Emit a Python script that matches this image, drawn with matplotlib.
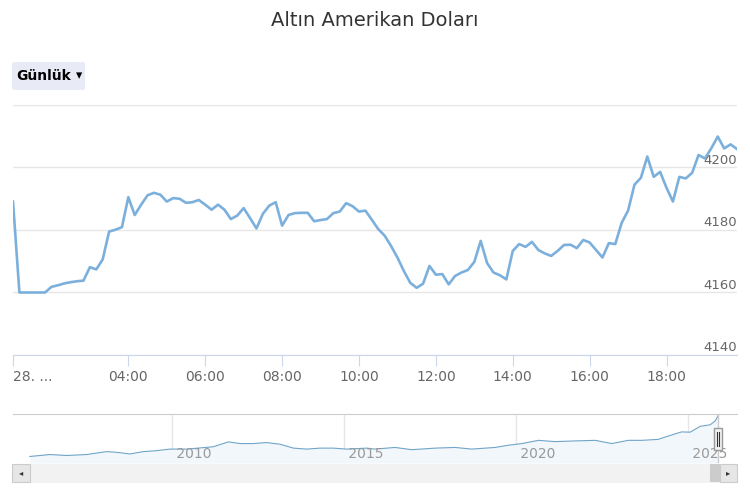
import pandas as pd
import matplotlib
matplotlib.use('Agg')
import matplotlib.pyplot as plt
from matplotlib.patches import Rectangle, FancyBboxPatch

# intraday gold price, 10 minute steps starting 01:00
start_time = '2025-10-28 01:00'
prices = [4189.1, 4160.0, 4160.0, 4160.0, 4160.0, 4160.0, 4161.8, 4162.3, 4162.9, 4163.3,
          4163.6, 4163.8, 4168.1, 4167.4, 4170.6, 4179.5, 4180.1, 4180.9, 4190.5, 4184.8,
          4188.1, 4191.1, 4191.9, 4191.3, 4189.1, 4190.2, 4190.0, 4188.7, 4188.9, 4189.6,
          4188.1, 4186.5, 4188.1, 4186.5, 4183.5, 4184.6, 4187.0, 4183.8, 4180.5, 4185.2,
          4187.8, 4188.9, 4181.4, 4184.8, 4185.4, 4185.5, 4185.5, 4182.8, 4183.2, 4183.5,
          4185.4, 4185.9, 4188.6, 4187.6, 4185.9, 4186.2, 4183.3, 4180.3, 4178.2, 4174.9,
          4171.2, 4166.9, 4163.1, 4161.5, 4162.8, 4168.5, 4165.7, 4165.9, 4162.6, 4165.3,
          4166.4, 4167.2, 4169.8, 4176.5, 4169.4, 4166.4, 4165.5, 4164.2, 4173.3, 4175.5,
          4174.6, 4176.2, 4173.6, 4172.5, 4171.7, 4173.3, 4175.2, 4175.3, 4174.2, 4176.8,
          4176.0, 4173.6, 4171.2, 4175.8, 4175.5, 4182.3, 4186.2, 4194.5, 4196.7, 4203.5,
          4197.0, 4198.6, 4193.5, 4189.1, 4197.0, 4196.5, 4198.3, 4204.0, 4202.9, 4206.2,
          4209.9, 4206.1, 4207.4, 4205.9]
y_ticks = [4140, 4160, 4180, 4200, 4220]
x_tick_hours = ['01:00', '04:00', '06:00', '08:00', '10:00', '12:00', '14:00', '16:00', '18:00']
x_tick_labels = ['28. ...', '04:00', '06:00', '08:00', '10:00', '12:00', '14:00', '16:00', '18:00']

# long history shown in the navigator
nav_years = [2005.87, 2006.45, 2006.94, 2007.52, 2008.10, 2008.39, 2008.78, 2009.17, 2009.56, 2009.94,
             2010.43, 2011.20, 2011.64, 2011.98, 2012.36, 2012.75, 2013.14, 2013.53, 2013.92, 2014.30,
             2014.69, 2015.08, 2015.66, 2015.90, 2016.48, 2016.97, 2017.65, 2018.23, 2018.71, 2019.39,
             2019.78, 2020.17, 2020.65, 2021.13, 2021.71, 2022.30, 2022.78, 2023.26, 2023.65, 2024.13,
             2024.42, 2024.81, 2025.06, 2025.35, 2025.64, 2025.79, 2025.88]
nav_prices = [572, 742, 657, 742, 998, 939, 794, 998, 1084, 1220,
              1220, 1425, 1852, 1706, 1706, 1792, 1647, 1305, 1220, 1305,
              1305, 1220, 1305, 1220, 1365, 1169, 1305, 1365, 1220, 1365,
              1561, 1706, 1988, 1877, 1937, 1988, 1706, 1988, 1988, 2073,
              2363, 2730, 2705, 3217, 3353, 3695, 4206]
nav_year_ticks = [2010, 2015, 2020, 2025]

line_color = '#7cb0dc'
grid_color = '#e6e6e6'
W, H = 750, 500

times = pd.date_range(start_time, periods=len(prices), freq='10min')
day = start_time[:10]

fig = plt.figure(figsize=(7.5, 5), dpi=100)
fig.text(0.5, 1 - 20 / H, 'Altın Amerikan Doları', ha='center', va='center', fontsize=14, color='#333333')

# range selector button
fig.patches.append(FancyBboxPatch((12 / W, 1 - 90 / H), 73 / W, 28 / H, boxstyle='round,pad=0,rounding_size=0.004',
                                  transform=fig.transFigure, facecolor='#e8ebf6', edgecolor='none'))
fig.text(16 / W, 1 - 76 / H, 'Günlük', ha='left', va='center', fontsize=10, fontweight='bold', color='#000000')
fig.text(79 / W, 1 - 76 / H, '▾', ha='center', va='center', fontsize=9, color='#000000')

# main chart
ax = fig.add_axes([13 / W, 1 - 355 / H, 724 / W, 250 / H])
ax.plot(times, prices, color=line_color, lw=1.9, solid_joinstyle='round')
ax.set_xlim(times[0], times[-1])
ax.set_ylim(y_ticks[0], y_ticks[-1])
ax.set_yticks(y_ticks)
ax.yaxis.grid(True, color=grid_color, lw=1)
ax.tick_params(axis='y', left=False, labelleft=False)
for v in y_ticks[:-1]:
    ax.annotate(str(v), (1.0, v), xycoords=ax.get_yaxis_transform(), xytext=(0, 0.5), textcoords='offset points',
                ha='right', va='bottom', fontsize=9.5, color='#666666')
for s in ['top', 'right', 'left']:
    ax.spines[s].set_visible(False)
ax.spines['bottom'].set_color('#ccd6eb')
ax.set_xticks([pd.Timestamp(day + ' ' + h) for h in x_tick_hours])
ax.set_xticklabels(x_tick_labels)
ax.tick_params(axis='x', length=8, color='#ccd6eb', labelsize=10, labelcolor='#666666', pad=2.5)
ax.get_xticklabels()[0].set_ha('left')
ax.set_axisbelow(True)

# navigator
nav = fig.add_axes([13 / W, 1 - 463 / H, 724 / W, 49 / H])
nav.fill_between(nav_years, nav_prices, 0, color='#f2f7fc', lw=0)
nav.plot(nav_years, nav_prices, color='#6fa5c8', lw=0.8)
nav.set_xlim(2005.38, 2026.42)
nav.set_ylim(0, 4300)
nav.set_yticks([])
nav.set_xticks(nav_year_ticks)
nav.xaxis.grid(True, color=grid_color, lw=1)
nav.tick_params(axis='x', length=0, labelbottom=False)
for yr in nav_year_ticks:
    nav.text(yr, 0.04, ' ' + str(yr), transform=nav.get_xaxis_transform(), ha='left', va='bottom',
             fontsize=10, color='#999999')
for s in ['bottom', 'right', 'left']:
    nav.spines[s].set_visible(False)
nav.spines['top'].set_color('#cccccc')
nav.axvline(2025.88, color='#cccccc', lw=1)
nav.set_axisbelow(True)

# navigator handle
hx = 718
fig.patches.append(Rectangle(((hx - 4) / W, 1 - 450 / H), 8 / W, 22 / H, transform=fig.transFigure,
                             facecolor='#f2f2f2', edgecolor='#999999', lw=1))
for dx in (-1.3, 1.3):
    fig.lines.append(plt.Line2D([(hx + dx) / W] * 2, [1 - 446 / H, 1 - 432 / H], transform=fig.transFigure,
                                color='#333333', lw=0.8))

# scrollbar
fig.patches.append(Rectangle((12 / W, 1 - 482 / H), 725 / W, 18 / H, transform=fig.transFigure,
                             facecolor='#f2f2f2', edgecolor='#f2f2f2', lw=0.5))
fig.patches.append(Rectangle((710 / W, 1 - 482 / H), 10 / W, 18 / H, transform=fig.transFigure,
                             facecolor='#cccccc', edgecolor='none'))
fig.patches.append(Rectangle((12 / W, 1 - 482 / H), 18 / W, 18 / H, transform=fig.transFigure,
                             facecolor='#e6e6e6', edgecolor='#cccccc', lw=0.8))
fig.patches.append(Rectangle((720 / W, 1 - 482 / H), 17 / W, 18 / H, transform=fig.transFigure,
                             facecolor='#e6e6e6', edgecolor='#cccccc', lw=0.8))
fig.text(21 / W, 1 - 473 / H, '◂', ha='center', va='center', fontsize=6, color='#333333')
fig.text(728.5 / W, 1 - 473 / H, '▸', ha='center', va='center', fontsize=6, color='#333333')

fig.savefig('out.png', dpi=100)
